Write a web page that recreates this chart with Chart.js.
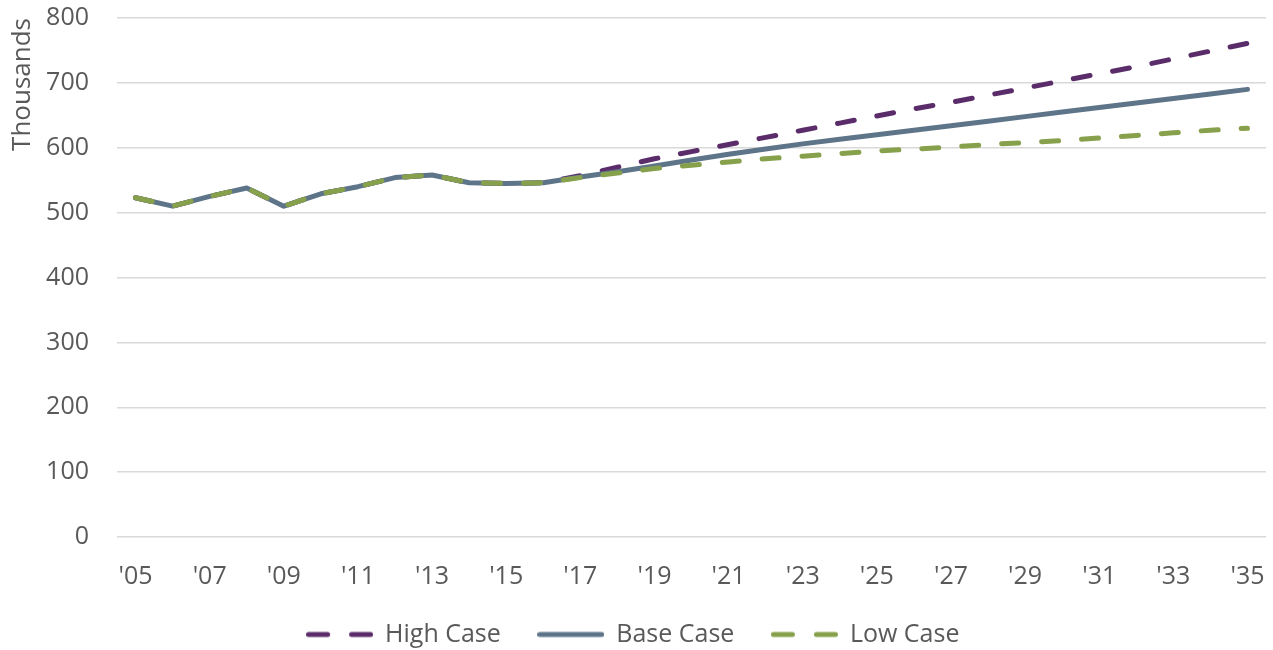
<!DOCTYPE html>
<html>
<head>
<meta charset="utf-8">
<script src="https://cdn.jsdelivr.net/npm/chart.js"></script>
<style>
  html, body { margin: 0; padding: 0; background: #fff; }
  #wrap { width: 1273px; height: 650px; position: relative; }
</style>
</head>
<body>
<div id="wrap"><canvas id="casesChart"></canvas></div>
<script>
// Years on the x axis, 2005 through 2035
const years = [
    "'05", "'06", "'07", "'08", "'09", "'10", "'11", "'12", "'13", "'14", "'15",
    "'16", "'17", "'18", "'19", "'20", "'21", "'22", "'23", "'24", "'25", "'26",
    "'27", "'28", "'29", "'30", "'31", "'32", "'33", "'34", "'35"
];

// Actuals, 2005-2016 (thousands)
const history = [523, 510, 525, 538, 510, 529, 540, 554, 558, 546, 545, 546];

// Projections, 2017-2035 (thousands)
const highCase = [557, 570, 583, 594, 605, 616, 627, 638, 649, 660, 670, 681, 692, 703, 714, 725, 737, 749, 761];
const baseCase = [555, 563, 572, 581, 590, 598, 606, 613, 620, 627, 634, 641, 648, 655, 662, 669, 676, 683, 690];
const lowCase  = [554, 561, 568, 573, 578, 583, 587, 591, 595, 598, 601, 605, 608, 611, 615, 619, 623, 627, 630];

const yTicks = [0, 100, 200, 300, 400, 500, 600, 700, 800];

const textColor = '#595959';
const fontFamily = "'Open Sans', 'Noto Sans', sans-serif";

// Small line swatch for the legend (the built-in 'line' point style ignores dashes)
function legendSwatch(color, dash) {
    const c = document.createElement('canvas');
    c.width = 67;
    c.height = 8;
    const g = c.getContext('2d');
    g.strokeStyle = color;
    g.lineWidth = 5;
    g.lineCap = 'round';
    g.setLineDash(dash);
    g.beginPath();
    g.moveTo(2.5, 4);
    g.lineTo(64.5, 4);
    g.stroke();
    return c;
}

function series(label, projection, color, dash, order) {
    return {
        label: label,
        data: history.concat(projection),
        borderColor: color,
        backgroundColor: color,
        borderWidth: 5,
        borderDash: dash,
        borderCapStyle: 'round',
        borderJoinStyle: 'round',
        pointRadius: 0,
        pointStyle: legendSwatch(color, dash.length ? [19, 24] : []),
        tension: 0,
        fill: false,
        order: order
    };
}

new Chart(document.getElementById('casesChart'), {
    type: 'line',
    data: {
        labels: years,
        datasets: [
            series('High Case', highCase, '#5b2c6a', [17, 23], 3),
            series('Base Case', baseCase, '#5e7589', [], 2),
            series('Low Case', lowCase, '#87a04b', [17, 23], 1)
        ]
    },
    options: {
        responsive: true,
        maintainAspectRatio: false,
        animation: false,
        layout: { padding: { top: 5, right: 7, bottom: 0, left: 0 } },
        plugins: {
            tooltip: { enabled: false },
            legend: {
                position: 'bottom',
                maxHeight: 65,
                labels: {
                    color: textColor,
                    font: { family: fontFamily, size: 25 },
                    usePointStyle: true,
                    pointStyleWidth: 66,
                    padding: 37,
                    sort: (a, b) => a.datasetIndex - b.datasetIndex
                }
            }
        },
        scales: {
            x: {
                offset: true,
                grid: { display: false, drawTicks: false },
                border: { display: false },
                ticks: {
                    color: textColor,
                    font: { family: fontFamily, size: 25 },
                    autoSkip: false,
                    maxRotation: 0,
                    padding: 25,
                    callback: (v, i) => (i % 2 === 0 ? years[i] : '')
                },
                afterFit: (scale) => {
                    scale.height = 48;
                    scale.paddingLeft = 0;
                    scale.paddingRight = 0;
                }
            },
            y: {
                min: 0,
                max: 800,
                afterBuildTicks: (scale) => {
                    scale.ticks = yTicks.map(v => ({ value: v }));
                },
                grid: { color: '#d9d9d9', lineWidth: 1.5, drawTicks: false },
                border: { display: false },
                ticks: {
                    color: textColor,
                    font: { family: fontFamily, size: 25 },
                    padding: 28
                },
                title: {
                    display: true,
                    text: 'Thousands',
                    align: 'end',
                    color: textColor,
                    font: { family: fontFamily, size: 26 },
                    padding: { top: 7, bottom: 9 }
                },
                afterFit: (scale) => {
                    scale.width = 117;
                    scale.paddingTop = 18;
                    scale.paddingBottom = 0;
                }
            }
        }
    }
});
</script>
</body>
</html>
